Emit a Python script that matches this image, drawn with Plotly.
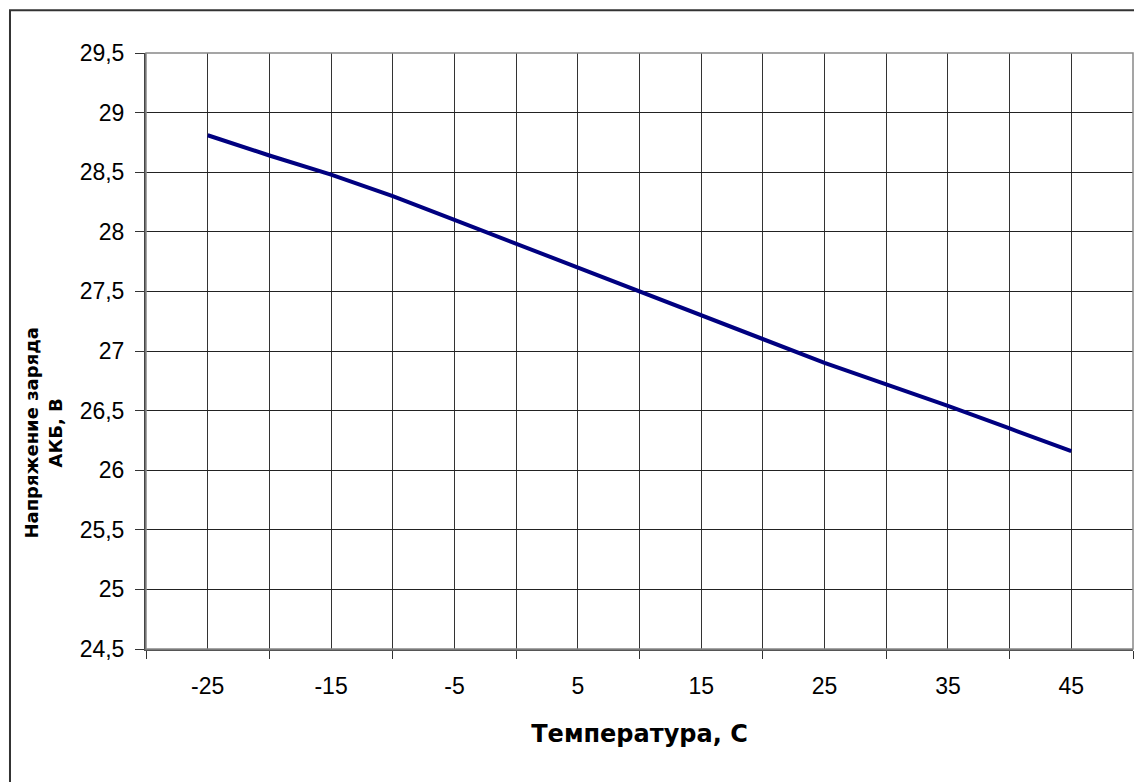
import plotly.graph_objects as go

temps = [-25, -20, -15, -10, -5, 0, 5, 10, 15, 20, 25, 30, 35, 40, 45]
voltage = [28.81, 28.64, 28.48, 28.30, 28.10, 27.90, 27.70, 27.50, 27.30, 27.10,
           26.90, 26.72, 26.54, 26.35, 26.16]
x_labels = [-25, -15, -5, 5, 15, 25, 35, 45]
x_title = "Температура, С"
y_title = "Напряжение заряда<br>АКБ, В"

FONT = "Liberation Sans, Arial, sans-serif"
TFONT = "DejaVu Sans, Liberation Sans, sans-serif"

fig = go.Figure()
fig.add_trace(go.Scatter(
    x=temps, y=voltage, mode="lines",
    line=dict(color="#000080", width=4),
    showlegend=False, hoverinfo="skip",
))

fig.update_layout(
    width=1142, height=782,
    margin=dict(l=138, r=17, t=45, b=141),
    paper_bgcolor="white", plot_bgcolor="white",
    separators=", ",
    font=dict(family=FONT, color="black", size=23),
    xaxis=dict(
        range=[-30, 50], tickmode="array", tickvals=x_labels,
        ticktext=[str(v) for v in x_labels],
        ticks="", showgrid=True, gridcolor="#333333", gridwidth=1,
        minor=dict(tick0=-30, dtick=10, ticks="outside", ticklen=8,
                   tickcolor="#333333", showgrid=True, gridcolor="#333333",
                   gridwidth=1),
        showline=True, linecolor="#555555", linewidth=2, mirror=False,
        ticklabelstandoff=15,
        tickfont=dict(size=23),
        zeroline=False, fixedrange=True,
        title=dict(text=x_title, font=dict(size=24, family=TFONT, weight="bold"),
                   standoff=28),
    ),
    yaxis=dict(
        range=[24.5, 29.5], dtick=0.5, tick0=24.5,
        ticks="outside", ticklen=9, tickcolor="#333333",
        showgrid=True, gridcolor="#222222", gridwidth=1,
        showline=True, linecolor="#444444", linewidth=2,
        ticklabelstandoff=6, tickfont=dict(size=23),
        zeroline=False, fixedrange=True,
    ),
    shapes=[
        dict(type="rect", xref="paper", yref="paper",
             x0=0, x1=1, y0=0, y1=1, line=dict(color="#888888", width=1.5),
             fillcolor="rgba(0,0,0,0)", layer="above"),
        dict(type="rect", xref="paper", yref="paper",
             x0=-0.1378, x1=1.03, y0=-0.25, y1=1.0716,
             line=dict(color="#333333", width=2), fillcolor="rgba(0,0,0,0)"),
    ],
    annotations=[
        dict(text=y_title, xref="paper", yref="paper", x=-0.1039, y=0.3622,
             xanchor="center", yanchor="middle", textangle=-90, showarrow=False,
             font=dict(size=18, family=TFONT, weight="bold")),
    ],
)

fig.write_html("out.html")
